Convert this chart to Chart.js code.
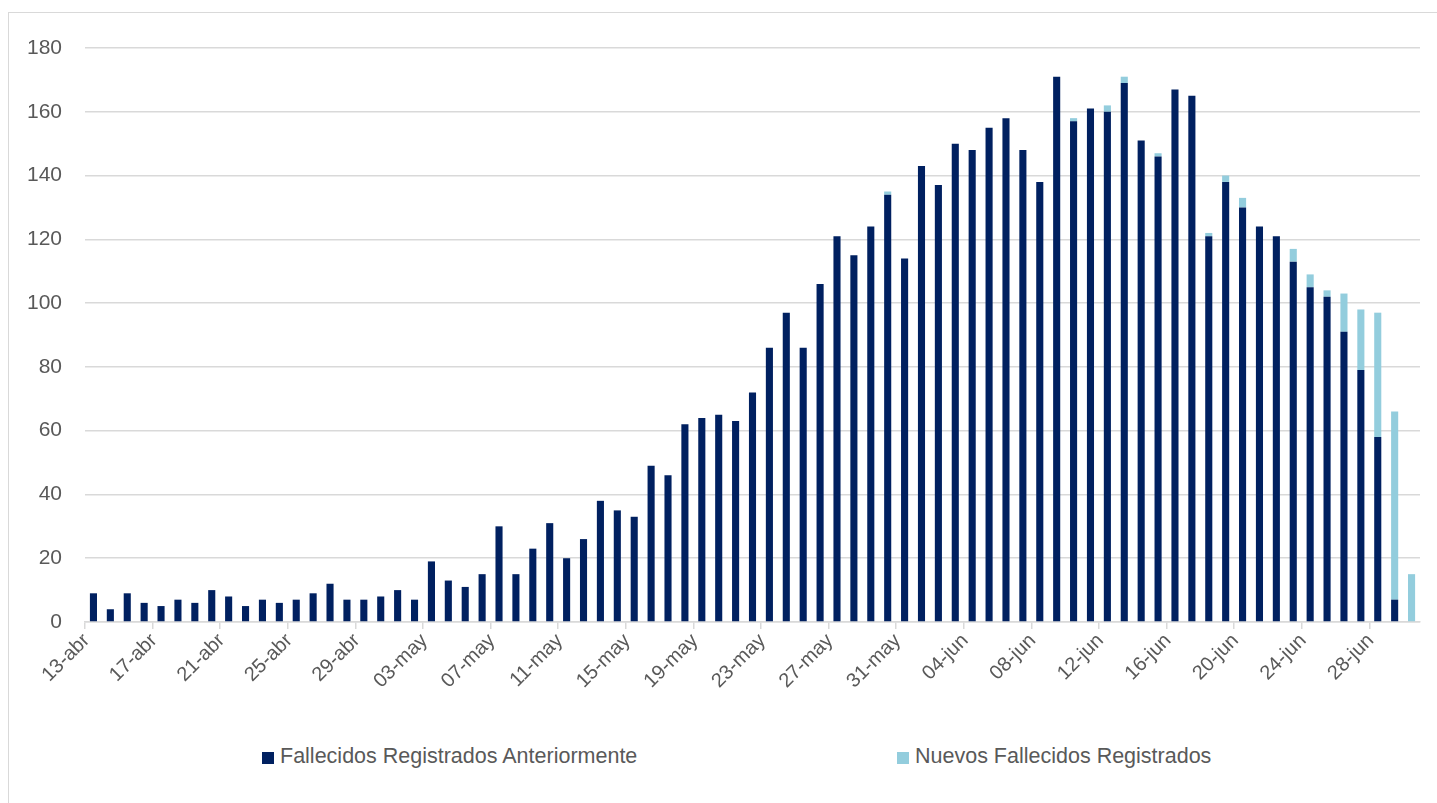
<!DOCTYPE html>
<html lang="es">
<head>
    <meta charset="UTF-8">
    <title>Fallecidos por fecha</title>
    <script src="https://cdn.jsdelivr.net/npm/chart.js@4.4.1/dist/chart.umd.min.js"></script>
    <style>
        body {
            margin: 0;
            background: #ffffff;
            font-family: "Liberation Sans", Arial, sans-serif;
        }
        .frame {
            position: absolute;
            left: 8px;
            top: 12px;
            width: 1500px;
            height: 900px;
            border: 1px solid #d9d9d9;
        }
        .chart-box {
            position: absolute;
            left: 0;
            top: 0;
            width: 1437px;
            height: 720px;
        }
        .legend-item {
            position: absolute;
            top: 743px;
            font-size: 21.5px;
            color: #595959;
            white-space: nowrap;
            line-height: 26px;
        }
        .legend-item span {
            display: inline-block;
            width: 12px;
            height: 12px;
            margin-right: 6px;
            vertical-align: -1px;
        }
    </style>
</head>
<body>
    <div class="frame"></div>
    <div class="chart-box">
        <canvas id="deathsChart"></canvas>
    </div>
    <div class="legend-item" style="left:262px"><span style="background:#002060"></span>Fallecidos Registrados Anteriormente</div>
    <div class="legend-item" style="left:897px"><span style="background:#93cddd"></span>Nuevos Fallecidos Registrados</div>

    <script>
        const months = ['abr', 'may', 'jun'];
        const monthStart = [13, 1, 1];
        const monthEnd = [30, 31, 30];

        // fallecidos ya registrados en informes anteriores, 13-abr a 30-jun
        const previousDeaths = [
            9, 4, 9, 6, 5, 7, 6, 10, 8, 5, 7, 6, 7, 9, 12, 7, 7, 8,
            10, 7, 19, 13, 11, 15, 30, 15, 23, 31, 20, 26, 38, 35, 33, 49, 46, 62,
            64, 65, 63, 72, 86, 97, 86, 106, 121, 115, 124, 134, 114,
            143, 137, 150, 148, 155, 158, 148, 138, 171, 157, 161, 160, 169, 151, 146,
            167, 165, 121, 138, 130, 124, 121, 113, 105, 102, 91, 79, 58, 7, 0
        ];
        // nuevos fallecidos registrados
        const newDeaths = [
            0, 0, 0, 0, 0, 0, 0, 0, 0, 0, 0, 0, 0, 0, 0, 0, 0, 0,
            0, 0, 0, 0, 0, 0, 0, 0, 0, 0, 0, 0, 0, 0, 0, 0, 0, 0,
            0, 0, 0, 0, 0, 0, 0, 0, 0, 0, 0, 1, 0,
            0, 0, 0, 0, 0, 0, 0, 0, 0, 1, 0, 2, 2, 0, 1,
            0, 0, 1, 2, 3, 0, 0, 4, 4, 2, 12, 19, 39, 59, 15
        ];
        const yTicks = [0, 20, 40, 60, 80, 100, 120, 140, 160, 180];

        const dates = [];
        months.forEach((m, k) => {
            for (let d = monthStart[k]; d <= monthEnd[k]; d++) {
                dates.push(String(d).padStart(2, '0') + '-' + m);
            }
        });

        const ctx = document.getElementById('deathsChart').getContext('2d');
        new Chart(ctx, {
            type: 'bar',
            data: {
                labels: dates,
                datasets: [
                    {
                        label: 'Fallecidos Registrados Anteriormente',
                        data: previousDeaths,
                        backgroundColor: '#002060'
                    },
                    {
                        label: 'Nuevos Fallecidos Registrados',
                        data: newDeaths,
                        backgroundColor: '#93cddd'
                    }
                ]
            },
            options: {
                responsive: true,
                maintainAspectRatio: false,
                animation: false,
                layout: {
                    padding: { top: 48, right: 17, left: 0, bottom: 0 }
                },
                datasets: {
                    bar: { categoryPercentage: 1, barPercentage: 0.42 }
                },
                plugins: {
                    legend: { display: false },
                    tooltip: { enabled: false }
                },
                scales: {
                    x: {
                        stacked: true,
                        afterFit: scale => { scale.height = 98; },
                        border: { display: true, color: '#d9d9d9', width: 1.5 },
                        grid: {
                            offset: true,
                            drawOnChartArea: false,
                            drawTicks: true,
                            tickLength: 7,
                            lineWidth: 1.5,
                            color: c => (c.index % 4 === 0 ? '#d9d9d9' : 'rgba(0,0,0,0)')
                        },
                        ticks: {
                            autoSkip: false,
                            maxRotation: 45,
                            minRotation: 45,
                            labelOffset: -7,
                            padding: 0,
                            color: '#595959',
                            font: { family: 'Liberation Sans', size: 20 },
                            callback: (v, i) => (i % 4 === 0 ? dates[i] : '')
                        }
                    },
                    y: {
                        stacked: true,
                        min: 0,
                        max: 180,
                        afterFit: scale => { scale.width = 85; },
                        afterBuildTicks: scale => { scale.ticks = yTicks.map(v => ({ value: v })); },
                        border: { display: false },
                        grid: {
                            drawTicks: false,
                            color: '#d9d9d9',
                            lineWidth: 1.5
                        },
                        ticks: {
                            padding: 23,
                            color: '#595959',
                            font: { family: 'Liberation Sans', size: 21 }
                        }
                    }
                }
            }
        });
    </script>
</body>
</html>
